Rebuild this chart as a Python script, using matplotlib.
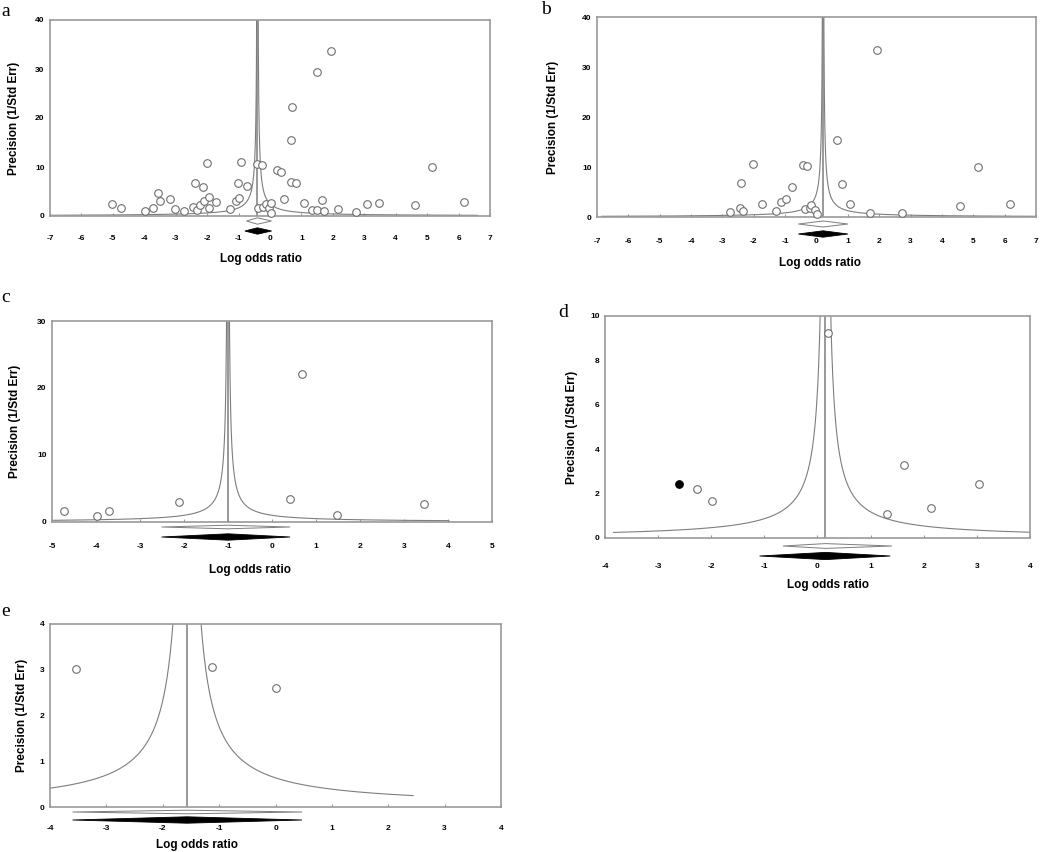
import numpy as np
import matplotlib
matplotlib.use("Agg")
import matplotlib.pyplot as plt
from matplotlib import transforms
from matplotlib.patches import Polygon

plt.rcParams['font.family'] = ['Liberation Sans', 'DejaVu Sans']
plt.rcParams['axes.unicode_minus'] = False

# ---- data (log odds ratio, precision) ----
a_lor = [-5.04, -4.74, -3.98, -3.72, -3.57, -3.51, -3.17, -3.02, -2.75, -2.45,
         -2.40, -2.32, -2.23, -2.14, -2.11, -1.99, -1.94, -1.93, -1.72, -1.26,
         -1.09, -1.03, -0.98, -0.92, -0.74, -0.42, -0.37, -0.27, -0.21, -0.13,
         -0.02, 0.02, 0.04, 0.21, 0.35, 0.43, 0.67, 0.67, 0.71, 0.83,
         1.08, 1.34, 1.48, 1.50, 1.66, 1.73, 1.95, 2.17, 2.75, 3.09,
         3.47, 4.61, 5.14, 6.18]
a_prec = [2.4, 1.7, 1.0, 1.7, 4.6, 3.1, 3.5, 1.4, 1.1, 1.9,
          6.7, 1.3, 2.2, 6.0, 3.0, 10.8, 1.6, 3.9, 2.8, 1.4,
          3.0, 6.7, 3.7, 11.1, 6.1, 10.6, 1.6, 10.4, 1.8, 2.5,
          1.6, 2.6, 0.7, 9.3, 8.9, 3.4, 15.6, 6.9, 22.2, 6.7,
          2.7, 1.2, 29.4, 1.2, 3.3, 1.0, 33.6, 1.4, 0.8, 2.5,
          2.7, 2.2, 10.0, 2.8]

b_lor = [-2.77, -2.45, -2.41, -2.34, -2.02, -1.75, -1.28, -1.12, -0.98, -0.77,
         -0.43, -0.38, -0.29, -0.22, -0.16, -0.05, 0.0, 0.64, 0.80, 1.06,
         1.70, 1.94, 2.72, 4.59, 5.14, 6.17]
b_prec = [1.1, 1.9, 6.8, 1.3, 10.7, 2.7, 1.3, 3.1, 3.6, 6.0,
          10.5, 1.6, 10.3, 1.8, 2.5, 1.5, 0.7, 15.5, 6.6, 2.7,
          0.9, 33.4, 0.8, 2.2, 10.0, 2.7]

c_lor = [-4.73, -3.98, -3.71, -2.11, 0.42, 0.69, 1.48, 3.46]
c_prec = [1.6, 0.9, 1.6, 3.0, 3.4, 22.1, 1.0, 2.7]

d_lor = [-2.27, -1.98, 0.19, 1.30, 1.63, 2.13, 3.04]
d_prec = [2.2, 1.65, 9.24, 1.1, 3.3, 1.33, 2.45]
d_imp_lor = [-2.60]       # imputed study (filled)
d_imp_prec = [2.45]

e_lor = [-3.53, -1.13, 0.0]
e_prec = [3.02, 3.05, 2.61]

# pooled estimate and confidence limits: (point, lower, upper)
a_obs = (-0.40, -0.75, 0.05)
a_adj = (-0.40, -0.80, 0.05)
b_obs = (0.21, -0.58, 1.00)
b_adj = (0.21, -0.58, 1.00)
c_obs = (-1.00, -2.51, 0.41)
c_adj = (-1.00, -2.51, 0.41)
d_obs = (0.15, -0.65, 1.40)
d_adj = (0.15, -1.09, 1.37)
e_obs = (-1.57, -3.60, 0.47)
e_adj = (-1.57, -3.60, 0.47)

W, H = 1052, 852
GRAY = '#9a9a9a'
LINE = '#7d7d7d'

fig = plt.figure(figsize=(W / 100, H / 100), dpi=100)


def diamond(ax, est, off, half, hpx, filled):
    trans = transforms.blended_transform_factory(ax.transData, ax.transAxes)
    yc = -off / hpx
    dh = half / hpx
    pts = [(est[1], yc), (est[0], yc + dh), (est[2], yc), (est[0], yc - dh)]
    if filled:
        p = Polygon(pts, closed=True, facecolor='black', edgecolor='black',
                    linewidth=0.6, transform=trans, clip_on=False)
    else:
        p = Polygon(pts, closed=True, facecolor='white', edgecolor=LINE,
                    linewidth=0.7, transform=trans, clip_on=False)
    ax.add_patch(p)


def panel(rect, letter, lxy, lor, prec, obs, adj, xlim, ylim, ystep, curve,
          offs, halves, tpad, xlab, ylab_x, imp=None):
    l, t, r, b = rect
    ax = fig.add_axes([l / W, 1 - b / H, (r - l) / W, (b - t) / H])
    hpx = b - t
    m = obs[0]

    # funnel
    xl = np.linspace(curve[0], m - 0.01, 1500)
    xr = np.linspace(m + 0.01, curve[1], 1500)
    ax.plot(xl, 1 / np.abs(xl - m), color=LINE, lw=0.8)
    ax.plot(xr, 1 / np.abs(xr - m), color=LINE, lw=0.8)
    ax.axvline(m, color=LINE, lw=1.1)

    ax.scatter(lor, prec, s=30, facecolors='white', edgecolors='#6e6e6e',
               linewidths=0.8, zorder=3, clip_on=False)
    if imp is not None:
        ax.scatter(imp[0], imp[1], s=30, facecolors='black', edgecolors='black',
                   linewidths=0.8, zorder=3, clip_on=False)

    diamond(ax, obs, offs[0], halves[0], hpx, False)
    diamond(ax, adj, offs[1], halves[1], hpx, True)

    ax.set_xlim(*xlim)
    ax.set_ylim(*ylim)
    ax.set_xticks(np.arange(xlim[0], xlim[1] + 1, 1))
    ax.set_yticks(np.arange(ylim[0], ylim[1] + ystep / 2, ystep))
    for s in ax.spines.values():
        s.set_color(GRAY)
        s.set_linewidth(1.2)
    ax.tick_params(axis='x', length=2, width=0.8, color=GRAY, direction='in',
                   pad=tpad, labelsize=6)
    ax.tick_params(axis='y', length=0, pad=4, labelsize=6)
    for lab in ax.get_xticklabels() + ax.get_yticklabels():
        lab.set_fontweight('bold')

    ax.set_xlabel('Log odds ratio', fontsize=8.5, fontweight='bold', va='center')
    ax.xaxis.set_label_coords(xlab[0], -xlab[1] / hpx,
                              transform=transforms.blended_transform_factory(
                                  ax.transData, ax.transAxes))
    ax.set_ylabel('Precision (1/Std Err)', fontsize=8.5, fontweight='bold',
                  va='center')
    ax.yaxis.set_label_coords(-(l - ylab_x) / (r - l), 0.5)

    fig.text(lxy[0] / W, 1 - lxy[1] / H, letter, family='Liberation Serif',
             fontsize=14, ha='left', va='center')
    return ax


panel((50, 20, 490, 216), 'a', (1, 12), a_lor, a_prec, a_obs, a_adj,
      (-7, 7), (0, 40), 10, (-7, 6.6), (5, 15), (3.2, 3.2), 14, (-0.3, 43), 14)
panel((597, 17, 1036, 217), 'b', (541, 10), b_lor, b_prec, b_obs, b_adj,
      (-7, 7), (0, 40), 10, (-6.85, 6.95), (7, 17), (3.0, 3.2), 15, (0.1, 46), 553)
panel((52, 321, 492, 522), 'c', (1, 297), c_lor, c_prec, c_obs, c_adj,
      (-5, 5), (0, 30), 10, (-4.96, 4.02), (5, 15), (1.8, 3.2), 15, (-0.5, 48), 15)
panel((605, 316, 1030, 538), 'd', (558, 313), d_lor, d_prec, d_obs, d_adj,
      (-4, 4), (0, 10), 2, (-3.84, 4.0), (8, 18), (2.4, 3.6), 18, (0.2, 47), 572,
      imp=(d_imp_lor, d_imp_prec))
panel((50, 624, 501, 807), 'e', (1, 612), e_lor, e_prec, e_obs, e_adj,
      (-4, 4), (0, 4), 1, (-4.0, 2.44), (5, 13), (1.8, 3.2), 13, (-1.4, 38), 22)

fig.savefig('out.png', dpi=100, facecolor='white')
